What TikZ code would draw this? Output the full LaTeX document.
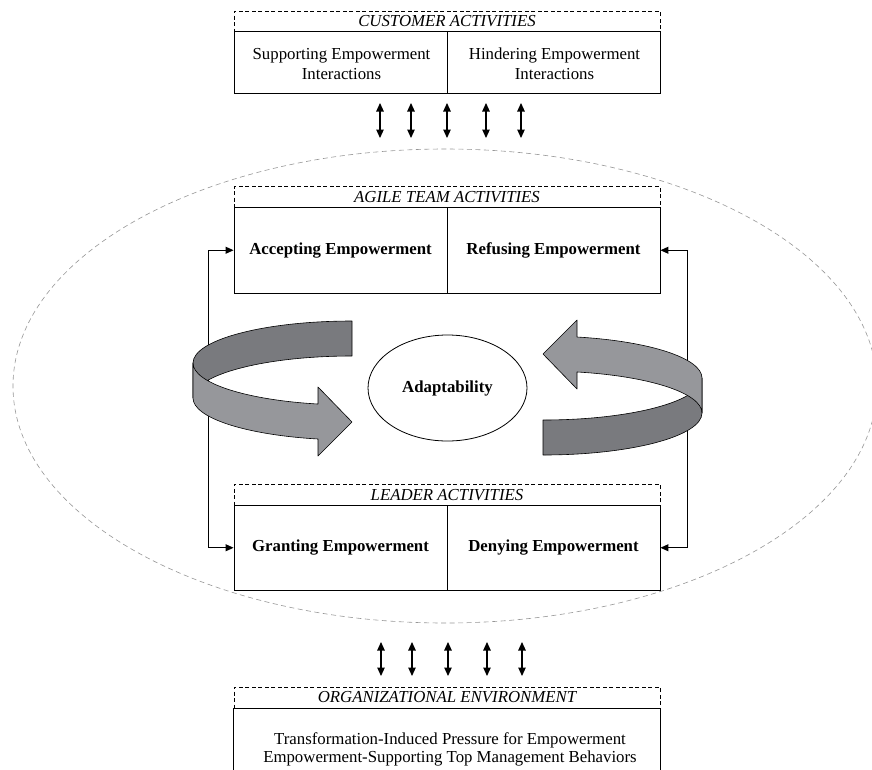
\documentclass[tikz,border=0pt]{standalone}
\usepackage{fontspec}
\setmainfont{Liberation Serif}
\usetikzlibrary{arrows.meta,shapes.geometric}
\definecolor{bandDark}{RGB}{121,122,126}
\definecolor{bandLight}{RGB}{150,151,155}
\definecolor{haloGray}{RGB}{150,150,150}

% one twisted ring arrow: back strip first, then the front strip with its head
\newcommand\ringarrow{%
  \path[band, fill=bandDark]
    (352,321) arc[start angle=270, end angle=180, x radius=159, y radius=42]
    -- (193,398)
    arc[start angle=180, end angle=270, x radius=159, y radius=42]
    -- cycle;
  \path[band, fill=bandLight]
    (193,363) arc[start angle=180, end angle=102.35, x radius=159, y radius=42]
    -- (318,387) -- (352,422) -- (318,456) -- (318,439)
    arc[start angle=102.35, end angle=180, x radius=159, y radius=42]
    -- cycle;
}

\begin{document}
\begin{tikzpicture}[x=1pt, y=-1pt,
  txt/.style={font=\fontsize{16.8}{20}\selectfont},
  header/.style={draw, dash pattern=on 4pt off 2.5pt, line width=0.8pt,
    minimum width=426pt, minimum height=21pt, inner sep=0pt, fill=white,
    font=\fontsize{16.8}{20}\selectfont\itshape},
  cell/.style={draw, line width=0.9pt, minimum width=213pt, inner sep=0pt,
    align=center, fill=white, font=\fontsize{16.8}{20}\selectfont},
  boldcell/.style={cell, font=\fontsize{16.8}{20}\selectfont\bfseries},
  bothway/.style={{Triangle[width=7.5pt,length=8.5pt]}-{Triangle[width=7.5pt,length=8.5pt]}, line width=1.1pt},
  loopback/.style={{Triangle[width=7pt,length=8pt]}-{Triangle[width=7pt,length=8pt]}, line width=1pt},
  band/.style={draw=black, line width=0.6pt, line join=round},
]
\useasboundingbox (0,0) rectangle (872,769);

% boundary of the team and leader sphere
\draw[haloGray, line width=0.6pt, dash pattern=on 5pt off 3.5pt] (445,386) ellipse [x radius=432, y radius=237];

% customer activities
\node[header] (custH) at (447,21.5) {CUSTOMER ACTIVITIES};
\node[cell, minimum height=62pt] (supp) at (340.5,62) {};
\node[cell, minimum height=62pt] (hind) at (553.5,62) {};
\node[txt, align=center] (suppT) at (341.5,64) {Supporting Empowerment\\Interactions};
\node[txt, align=center] (hindT) at (554.5,64) {Hindering Empowerment\\Interactions};

% customer <-> team interactions
\foreach \x [count=\i] in {380,411,447,486,521} {
  \coordinate (ct\i) at (\x,103);
  \coordinate (cb\i) at (\x,138);
  \draw[bothway] (ct\i) -- (cb\i);
}

% agile team activities
\node[header] (teamH) at (447,197) {AGILE TEAM ACTIVITIES};
\node[boldcell, minimum height=85.5pt] (acc) at (340.5,250.25) {Accepting Empowerment};
\node[boldcell, minimum height=85.5pt] (ref) at (553.5,250.25) {Refusing Empowerment};

% leader activities
\node[header] (leadH) at (447,494.75) {LEADER ACTIVITIES};
\node[boldcell, minimum height=84.5pt] (grant) at (340.5,547.75) {Granting Empowerment};
\node[boldcell, minimum height=84.5pt] (deny) at (553.5,547.75) {Denying Empowerment};

% feedback loops between team and leader
\draw[loopback] (acc.west) -- ++(-25,0) |- (grant.west);
\draw[loopback] (ref.east) -- ++(27,0) |- (deny.east);

% twisted ring arrows around adaptability
\ringarrow
\begin{scope}[rotate around={180:(447.5,388)}]
  \ringarrow
\end{scope}

\node[draw, ellipse, line width=0.8pt, minimum width=159pt, minimum height=106pt,
  font=\fontsize{16.8}{20}\selectfont\bfseries] (adapt) at (447.5,388) {Adaptability};

% environment <-> sphere interactions
\foreach \x [count=\i] in {381,412,448,487,522} {
  \coordinate (et\i) at (\x,642);
  \coordinate (eb\i) at (\x,676);
  \draw[bothway] (et\i) -- (eb\i);
}

% organizational environment
\node[header] (orgH) at (447,697.5) {ORGANIZATIONAL ENVIRONMENT};
\draw[line width=0.9pt] ([yshift=-64pt]orgH.south west) -- (orgH.south west)
  -- (orgH.south east) -- ([yshift=-64pt]orgH.south east);
\node[txt, align=center, font=\fontsize{16.8}{18}\selectfont] (orgT) at (450,749)
  {Transformation-Induced Pressure for Empowerment\\Empowerment-Supporting Top Management Behaviors};
\end{tikzpicture}
\end{document}
